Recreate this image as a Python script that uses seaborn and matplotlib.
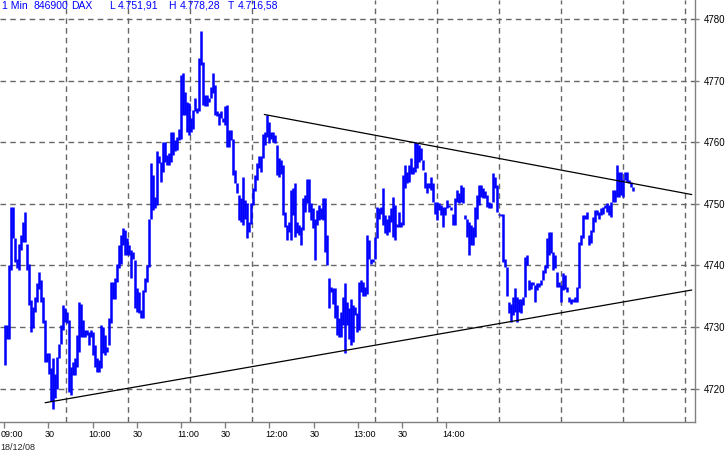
import numpy as np
import pandas as pd
import seaborn as sns
import matplotlib
matplotlib.use("Agg")
import matplotlib.pyplot as plt
import matplotlib.transforms as mtransforms

# DAX 1-min chart, 18/12/08. One high/low pair per bar.
bar_high = [
    4730.3, 4730.3, 4740.0, 4749.5, 4749.4, 4744.5, 4741.1, 4743.5, 4745.0, 4747.1, 4748.7, 4743.5, 4740.3, 4734.4, 4733.3, 4734.9,
    4737.1, 4739.0, 4737.6, 4734.9, 4731.1, 4725.7, 4725.7, 4723.3, 4724.9, 4722.4, 4725.1, 4727.3, 4730.3, 4733.5, 4733.0, 4732.4,
    4731.1, 4723.5, 4724.3, 4724.9, 4728.7, 4734.1, 4733.8, 4731.1, 4729.5, 4729.5, 4729.2, 4729.5, 4729.2, 4727.0, 4724.9, 4724.6,
    4730.3, 4730.0, 4728.7, 4726.8, 4731.4, 4737.3, 4737.3, 4737.9, 4740.3, 4743.3, 4744.9, 4746.0, 4745.7, 4744.4, 4743.3, 4742.5,
    4742.2, 4740.9, 4736.3, 4735.7, 4732.7, 4736.0, 4737.9, 4740.0, 4747.6, 4756.6, 4754.7, 4751.1, 4758.5, 4757.7, 4756.8, 4760.1,
    4760.1, 4757.9, 4758.2, 4761.7, 4761.7, 4760.3, 4760.9, 4762.2, 4770.9, 4771.2, 4768.2, 4766.6, 4766.3, 4763.9, 4765.2, 4767.1,
    4765.5, 4773.6, 4778.0, 4773.1, 4767.7, 4767.7, 4767.1, 4769.0, 4771.2, 4769.3, 4765.0, 4764.7, 4765.0, 4763.9, 4765.8, 4766.0,
    4762.0, 4762.0, 4760.6, 4755.5, 4753.3, 4751.4, 4750.9, 4754.4, 4750.6, 4750.1, 4747.1, 4750.1, 4752.5, 4754.7, 4756.6, 4757.7,
    4757.7, 4761.4, 4761.7, 4764.4, 4763.3, 4761.7, 4761.7, 4761.2, 4759.5, 4757.4, 4757.1, 4756.3, 4748.7, 4746.5, 4747.1, 4752.2,
    4752.5, 4753.3, 4747.1, 4746.5, 4746.3, 4750.9, 4751.4, 4754.1, 4754.1, 4750.1, 4749.3, 4747.6, 4749.0, 4749.8, 4749.3, 4750.9,
    4750.9, 4744.9, 4737.9, 4736.5, 4736.3, 4736.3, 4733.5, 4731.4, 4732.4, 4734.9, 4737.1, 4734.1, 4733.0, 4734.6, 4733.5, 4733.3,
    4732.2, 4737.3, 4737.6, 4737.3, 4736.5, 4744.9, 4744.1, 4741.1, 4741.1, 4744.6, 4749.5, 4749.3, 4749.5, 4752.5, 4748.2, 4747.6,
    4748.2, 4749.3, 4751.1, 4749.8, 4746.8, 4748.7, 4747.1, 4754.7, 4756.3, 4755.2, 4756.3, 4757.4, 4756.0, 4760.1, 4759.8, 4759.5,
    4759.0, 4757.1, 4755.2, 4753.3, 4753.3, 4754.4, 4753.3, 4750.3, 4750.3, 4750.1, 4749.8, 4749.5, 4749.5, 4750.6, 4749.8, 4749.5,
    4748.4, 4750.9, 4752.2, 4751.7, 4753.0, 4752.8, 4748.2, 4747.6, 4747.1, 4746.5, 4746.3, 4749.5, 4751.4, 4753.0, 4753.0, 4752.5,
    4752.0, 4751.4, 4750.3, 4750.1, 4755.0, 4754.4, 4753.0, 4748.4, 4748.4, 4748.4, 4741.1, 4739.8, 4734.1, 4733.8, 4734.9, 4736.3,
    4734.9, 4734.6, 4734.6, 4734.9, 4741.4, 4741.7, 4737.6, 4737.3, 4737.3, 4736.8, 4737.1, 4737.1, 4737.6, 4739.2, 4740.0, 4744.4,
    4745.5, 4745.5, 4742.2, 4741.7, 4739.0, 4737.3, 4736.8, 4738.7, 4738.4, 4736.5, 4734.9, 4734.6, 4734.6, 4734.9, 4736.5, 4743.8,
    4744.9, 4748.2, 4748.2, 4748.7, 4744.9, 4745.7, 4747.9, 4749.0, 4749.0, 4748.7, 4749.3, 4749.5, 4749.8, 4750.1, 4749.8, 4750.3,
    4752.2, 4752.2, 4756.3, 4755.2, 4755.2, 4754.1, 4755.2, 4755.2, 4753.9, 4753.6, 4752.8,
]
bar_low = [
    4723.8, 4728.1, 4728.1, 4739.2, 4744.4, 4740.6, 4739.5, 4739.2, 4742.5, 4743.8, 4743.8, 4739.2, 4733.5, 4729.2, 4729.8, 4732.5,
    4734.1, 4736.2, 4734.1, 4730.6, 4724.3, 4724.3, 4722.4, 4718.0, 4716.6, 4718.5, 4720.0, 4724.9, 4727.3, 4729.5, 4730.8, 4730.6,
    4719.5, 4719.0, 4722.2, 4722.2, 4723.5, 4726.0, 4728.4, 4728.4, 4728.4, 4728.7, 4727.0, 4728.4, 4725.4, 4723.5, 4722.7, 4722.7,
    4723.3, 4725.7, 4725.4, 4726.0, 4727.0, 4730.6, 4734.6, 4734.6, 4737.3, 4739.5, 4740.3, 4743.3, 4741.7, 4741.7, 4741.7, 4737.9,
    4741.1, 4733.0, 4732.5, 4732.2, 4731.4, 4731.4, 4735.7, 4737.3, 4739.8, 4747.6, 4749.0, 4749.3, 4749.8, 4756.6, 4753.6, 4755.2,
    4756.8, 4756.3, 4756.3, 4756.8, 4757.9, 4758.5, 4758.7, 4760.3, 4760.6, 4764.4, 4764.4, 4761.7, 4761.2, 4761.7, 4762.2, 4765.0,
    4764.7, 4765.0, 4772.5, 4766.0, 4765.8, 4765.8, 4766.6, 4767.1, 4768.0, 4764.4, 4764.2, 4762.8, 4763.9, 4763.3, 4762.8, 4759.3,
    4759.3, 4760.3, 4754.7, 4753.3, 4751.7, 4747.4, 4747.1, 4746.5, 4747.6, 4744.4, 4745.5, 4746.8, 4749.8, 4752.0, 4753.9, 4755.8,
    4755.2, 4757.4, 4759.5, 4760.9, 4759.8, 4760.6, 4760.1, 4759.8, 4754.7, 4754.4, 4754.9, 4748.2, 4746.3, 4744.1, 4745.5, 4744.1,
    4748.2, 4744.6, 4745.2, 4744.9, 4743.3, 4745.7, 4748.7, 4750.1, 4748.7, 4747.4, 4746.0, 4740.9, 4746.5, 4747.4, 4747.6, 4747.4,
    4742.2, 4740.0, 4733.0, 4735.7, 4733.8, 4731.4, 4728.7, 4728.4, 4728.4, 4730.3, 4725.7, 4730.3, 4728.1, 4727.0, 4727.6, 4731.9,
    4729.2, 4729.5, 4735.7, 4735.1, 4735.1, 4735.4, 4741.1, 4740.3, 4740.6, 4741.1, 4744.4, 4747.6, 4748.4, 4746.5, 4745.2, 4744.9,
    4745.5, 4747.1, 4744.6, 4744.1, 4746.3, 4746.3, 4746.3, 4746.5, 4752.5, 4753.3, 4753.6, 4754.9, 4754.9, 4755.2, 4755.8, 4756.8,
    4757.1, 4755.5, 4752.5, 4751.7, 4752.5, 4752.2, 4750.3, 4748.4, 4747.4, 4749.0, 4748.2, 4746.3, 4748.2, 4749.3, 4749.5, 4749.0,
    4746.5, 4746.5, 4750.3, 4750.1, 4750.3, 4750.1, 4747.6, 4744.6, 4741.7, 4743.3, 4743.3, 4744.6, 4747.6, 4749.8, 4751.1, 4750.9,
    4750.9, 4749.5, 4749.3, 4749.3, 4750.3, 4752.5, 4748.7, 4748.2, 4748.0, 4740.6, 4739.8, 4735.1, 4732.2, 4730.8, 4731.9, 4732.5,
    4730.8, 4732.5, 4732.2, 4733.5, 4734.9, 4740.0, 4736.0, 4736.2, 4736.8, 4734.1, 4736.0, 4736.5, 4736.8, 4737.6, 4738.7, 4739.5,
    4741.7, 4742.0, 4739.2, 4739.5, 4736.5, 4736.5, 4734.1, 4736.0, 4736.2, 4735.7, 4734.1, 4733.8, 4734.1, 4734.1, 4734.1, 4736.3,
    4743.3, 4744.4, 4747.6, 4747.6, 4743.3, 4743.6, 4745.5, 4747.1, 4748.2, 4747.6, 4748.2, 4748.4, 4749.3, 4748.7, 4748.2, 4747.9,
    4750.3, 4750.3, 4751.1, 4751.1, 4751.4, 4751.1, 4753.9, 4753.6, 4753.3, 4752.8, 4752.0,
]

# trend lines: (minutes after 09:00, price)
upper_t = [176.6, 466.7]
upper_p = [4764.5, 4751.5]
lower_t = [27.8, 466.7]
lower_p = [4717.7, 4736.0]

tick_minutes = [0, 30, 60, 90, 120, 150, 180, 210, 240, 270, 300]
tick_labels = ["09:00", "30", "10:00", "30", "11:00", "30", "12:00", "30", "13:00", "30", "14:00"]
price_ticks = [4720, 4730, 4740, 4750, 4760, 4770, 4780]

header = [("1 Min", 2), ("846900", 33), ("DAX", 71), ("L", 109), ("4.751,91", 118),
          ("H", 168), ("4.778,28", 180), ("T", 228), ("4.716,58", 238)]

sns.set_theme(style="white")
plt.rcParams["font.family"] = ["Liberation Sans", "DejaVu Sans"]

n = min(len(bar_high), len(bar_low))
# bars are ~1.36 min apart in this downsampled read-off
bars = pd.DataFrame({"t": 0.6 + np.arange(n) * 1.3575,
                     "high": bar_high[:n], "low": bar_low[:n]})

W, H = 726, 454
fig = plt.figure(figsize=(W / 100, H / 100), dpi=100)
ax = fig.add_axes([0, 1 - 422 / H, 695 / W, 422 / H])

ax.vlines(bars["t"], bars["low"], bars["high"], color="#0000ff", lw=1.8)

lines = pd.DataFrame({"t": upper_t + lower_t, "p": upper_p + lower_p,
                      "line": ["upper"] * 2 + ["lower"] * 2})
sns.lineplot(data=lines, x="t", y="p", units="line", estimator=None,
             color="black", lw=0.9, ax=ax, legend=False)

ax.set_xlim(-2.8, 468.9)
ax.set_ylim(4714.57, 4783.09)
ax.set_xlabel("")
ax.set_ylabel("")

ax.set_xticks(tick_minutes)
ax.set_xticklabels(tick_labels, fontsize=6.5, ha="left")
ax.set_xticks(np.arange(42, 469, 42), minor=True)

ax.yaxis.tick_right()
ax.set_yticks(price_ticks)
ax.set_yticklabels([str(p) for p in price_ticks], fontsize=7)

ax.tick_params(axis="x", which="major", direction="out", length=4, width=1,
               color="#808080", pad=2, labelcolor="black", bottom=True)
ax.tick_params(axis="x", which="minor", length=0)
ax.tick_params(axis="y", which="major", direction="out", length=3, width=1,
               color="#808080", pad=3, labelcolor="black", right=True, left=False)

# time labels start a few pixels left of their tick
off = mtransforms.ScaledTranslation(-4 / 100, 0, fig.dpi_scale_trans)
for lab in ax.get_xticklabels():
    lab.set_transform(lab.get_transform() + off)

ax.grid(False)
ax.grid(True, which="minor", axis="x", color="#666666", ls=(0, (4, 3)), lw=1)
ax.grid(True, which="major", axis="y", color="#666666", ls=(0, (4, 3)), lw=1)

for side in ["left", "top"]:
    ax.spines[side].set_visible(False)
for side in ["right", "bottom"]:
    ax.spines[side].set_color("#808080")
    ax.spines[side].set_linewidth(1)

for txt, xp in header:
    fig.text(xp / W, 1 - 6 / H, txt, color="#0000ff", fontsize=7.5,
             ha="left", va="center")

fig.text(0.5 / W, 1 - 447 / H, "18/12/08", fontsize=6.5, ha="left", va="center")

fig.savefig("out.png", dpi=100, facecolor="white")
